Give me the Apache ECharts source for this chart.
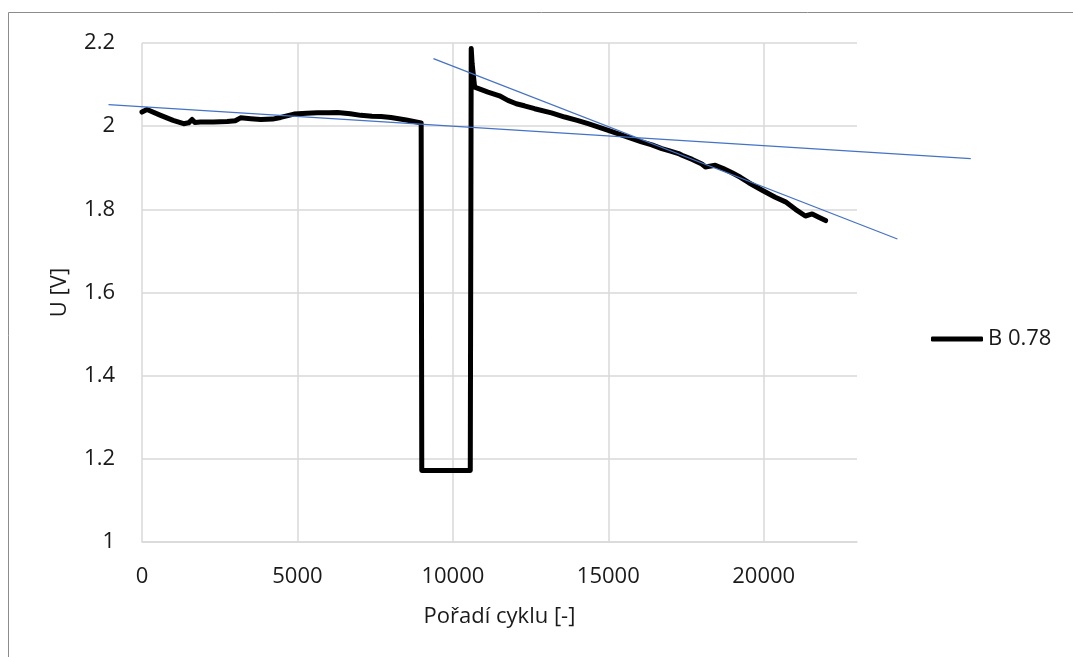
<!DOCTYPE html>
<html>
<head>
<meta charset="utf-8">
<script src="https://cdn.jsdelivr.net/npm/echarts@6/dist/echarts.min.js"></script>
<style>
html,body{margin:0;padding:0;background:#fff;}
#chart{width:1073px;height:657px;}
</style>
</head>
<body>
<div id="chart"></div>
<script>
// Main series: cycle order (x) and voltage (y)
const seriesName = 'B 0.78';
const cycleX = [0, 160, 600, 1000, 1340, 1500, 1610, 1700, 1880, 2300, 2740, 3000, 3170, 3500, 3820, 4200, 4460, 4890, 5300, 5640, 6000, 6290, 6700, 7040, 7400, 7690, 8010, 8500, 8980,
  9000, 10560, 10590, 10620, 10700, 11130, 11500, 11770, 12040, 12300, 12630, 13170, 13600, 14000, 14350, 15000, 15650, 16070, 16400, 16720, 17000, 17260, 17370, 17700, 18010, 18120, 18440, 18700, 18980, 19250, 19520, 19950, 20370, 20700, 21020, 21340, 21560, 21770, 21990];
const voltageY = [2.034, 2.040, 2.026, 2.014, 2.006, 2.008, 2.016, 2.009, 2.010, 2.010, 2.011, 2.013, 2.020, 2.018, 2.016, 2.017, 2.021, 2.029, 2.031, 2.032, 2.032, 2.033, 2.030, 2.026, 2.024, 2.023, 2.021, 2.015, 2.008,
  1.172, 1.172, 2.187, 2.150, 2.094, 2.082, 2.073, 2.062, 2.054, 2.049, 2.042, 2.032, 2.022, 2.014, 2.006, 1.990, 1.973, 1.962, 1.955, 1.946, 1.940, 1.934, 1.930, 1.920, 1.909, 1.902, 1.906, 1.898, 1.888, 1.877, 1.864, 1.846, 1.829, 1.818, 1.800, 1.784, 1.789, 1.781, 1.773];

// Linear trendlines (start and end points as drawn, incl. forecast)
const trend1X = [-1077, 26660];
const trend1Y = [2.052, 1.922];
const trend2X = [9375, 24300];
const trend2Y = [2.1625, 1.7287];

// Axis settings
const xMin = 0, xMax = 23000, xStep = 5000;
const yMin = 1, yMax = 2.2, yStep = 0.2;
const xTitle = 'Pořadí cyklu [-]';
const yTitle = 'U [V]';

const zip = (a, b) => a.map((v, i) => [v, b[i]]);

const font = '"Open Sans", "Noto Sans", sans-serif';
const txt = '#1a1a1a';
const gridColor = '#d9d9d9';

// plot area geometry
const plotLeft = 142, plotRight = 857, plotTop = 43, plotBottom = 542, W = 1073, H = 657;
const pxPerUnit = (plotRight - plotLeft) / (xMax - xMin);
// wider overlay grid with the same scale, so trendline forecasts can run past the plot edges
const ovMin = -2000, ovMax = 28000;
const ovLeft = plotLeft - (xMin - ovMin) * pxPerUnit;
const ovRightEdge = plotLeft + (ovMax - xMin) * pxPerUnit;

const chart = echarts.init(document.getElementById('chart'), null, {renderer: 'canvas'});
chart.setOption({
  animation: false,
  backgroundColor: '#ffffff',
  graphic: [{
    type: 'rect', z: -10, silent: true,
    shape: {x: 8.5, y: 12.5, width: 1200, height: 800},
    style: {fill: 'none', stroke: '#8c8c8c', lineWidth: 1}
  }],
  grid: [
    {left: plotLeft, right: W - plotRight, top: plotTop, bottom: H - plotBottom, containLabel: false},
    {left: ovLeft, right: W - ovRightEdge, top: plotTop, bottom: H - plotBottom, containLabel: false}
  ],
  legend: {
    data: [{name: seriesName, icon: 'roundRect'}],
    left: 931, top: 328, padding: 0,
    itemWidth: 52, itemHeight: 5, itemGap: 10,
    textStyle: {fontFamily: font, fontSize: 22, color: txt}
  },
  xAxis: [{
    type: 'value', gridIndex: 0, min: xMin, max: xMax, interval: xStep,
    name: xTitle, nameLocation: 'middle', nameGap: 64,
    nameTextStyle: {fontFamily: font, fontSize: 22, color: txt},
    axisLine: {show: true, lineStyle: {color: gridColor, width: 1.5}},
    axisTick: {show: false},
    axisLabel: {fontFamily: font, fontSize: 22, color: txt, margin: 24, showMaxLabel: false,
      formatter: v => String(v)},
    splitLine: {show: true, showMaxLine: false, lineStyle: {color: gridColor, width: 1.5}}
  }, {
    type: 'value', gridIndex: 1, min: ovMin, max: ovMax, show: false,
    splitLine: {show: false}
  }],
  yAxis: [{
    type: 'value', gridIndex: 0, min: yMin, max: yMax, interval: yStep,
    name: yTitle, nameLocation: 'middle', nameGap: 71, nameRotate: 90,
    nameTextStyle: {fontFamily: font, fontSize: 22, color: txt},
    axisLine: {show: false},
    axisTick: {show: false},
    axisLabel: {fontFamily: font, fontSize: 22, color: txt, margin: 27},
    splitLine: {show: true, lineStyle: {color: gridColor, width: 1.5}}
  }, {
    type: 'value', gridIndex: 1, min: yMin, max: yMax, show: false,
    splitLine: {show: false}
  }],
  series: [
    {
      name: seriesName, type: 'line', xAxisIndex: 0, yAxisIndex: 0, data: zip(cycleX, voltageY),
      showSymbol: false, symbol: 'none',
      lineStyle: {color: '#000000', width: 5, cap: 'round', join: 'round'},
      itemStyle: {color: '#000000'}, z: 3
    },
    {
      name: 'trend1', type: 'line', xAxisIndex: 1, yAxisIndex: 1, data: zip(trend1X, trend1Y), clip: false,
      showSymbol: false, symbol: 'none',
      lineStyle: {color: '#4472C4', width: 1.2}, z: 4
    },
    {
      name: 'trend2', type: 'line', xAxisIndex: 1, yAxisIndex: 1, data: zip(trend2X, trend2Y), clip: false,
      showSymbol: false, symbol: 'none',
      lineStyle: {color: '#4472C4', width: 1.2}, z: 4
    }
  ]
});
</script>
</body>
</html>
